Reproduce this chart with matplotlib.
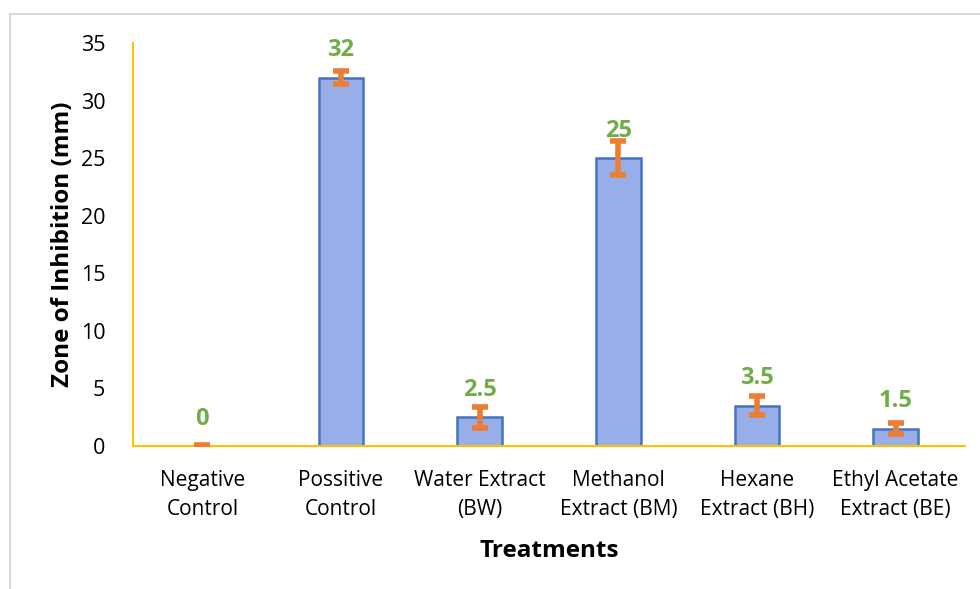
import matplotlib
matplotlib.use("Agg")
import matplotlib.pyplot as plt
from matplotlib.lines import Line2D
import numpy as np

categories = ["Negative\nControl", "Possitive\nControl", "Water Extract\n(BW)",
              "Methanol\nExtract (BM)", "Hexane\nExtract (BH)", "Ethyl Acetate\nExtract (BE)"]
values = [0, 32, 2.5, 25, 3.5, 1.5]
errors = [0.1, 0.6, 0.9, 1.5, 0.85, 0.5]
labels = ["0", "32", "2.5", "25", "3.5", "1.5"]
yticks = [0, 5, 10, 15, 20, 25, 30, 35]

plt.rcParams['font.family'] = ['Open Sans', 'DejaVu Sans']

fig = plt.figure(figsize=(9.8, 5.89), dpi=100)
ax = fig.add_axes([133/980, 143/589, (965-133)/980, (446-43)/589])

x = np.arange(len(categories))
ax.bar(x, values, width=0.32, color="#98AEE9", edgecolor="#4472C4", linewidth=1.8, zorder=2)
ax.errorbar(x, values, yerr=errors, fmt='none', ecolor="#ED7D31", elinewidth=4,
            capsize=6, capthick=4, zorder=3)
for xi, v, lab in zip(x, values, labels):
    ax.annotate(lab, (xi, v), xytext=(0, 11), textcoords='offset points',
                ha='center', va='bottom', color="#70AD47", fontsize=17, fontweight='bold')

ax.set_xlim(-0.5, len(categories) - 0.5)
ax.set_ylim(0, 35)
ax.set_yticks(yticks)
ax.set_xticks(x)
ax.set_xticklabels(categories, fontsize=15, linespacing=1.5)
ax.tick_params(axis='y', length=0, labelsize=15.5, pad=20)
ax.tick_params(axis='x', length=0, pad=17)
for s in ['top', 'right']:
    ax.spines[s].set_visible(False)
for s in ['left', 'bottom']:
    ax.spines[s].set_color("#FFC000")
    ax.spines[s].set_linewidth(1.5)

ax.set_ylabel("Zone of Inhibition (mm)", fontsize=17.5, fontweight='bold', labelpad=4)
ax.set_xlabel("Treatments", fontsize=17.5, fontweight='bold', labelpad=14)

# outer chart frame
fig.add_artist(Line2D([9.5/980, 9.5/980], [0, 1 - 13.5/589], transform=fig.transFigure,
                      color="#D9D9D9", linewidth=1.5))
fig.add_artist(Line2D([9.5/980, 1], [1 - 13.5/589, 1 - 13.5/589], transform=fig.transFigure,
                      color="#D9D9D9", linewidth=1.5))

fig.savefig("out.png", dpi=100)
